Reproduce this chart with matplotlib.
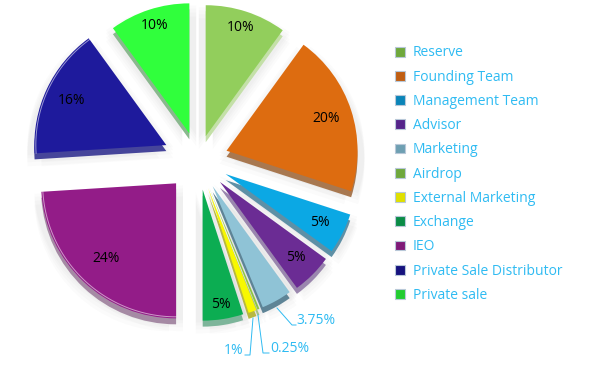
import numpy as np
import matplotlib
matplotlib.use('Agg')
import matplotlib.pyplot as plt
from matplotlib.patches import Patch

labels = ['Reserve', 'Founding Team', 'Management Team', 'Advisor', 'Marketing', 'Airdrop',
          'External Marketing', 'Exchange', 'IEO', 'Private Sale Distributor', 'Private sale']
values = [10, 20, 5, 5, 3.75, 0.25, 1, 5, 24, 16, 10]
pct_text = ['10%', '20%', '5%', '5%', '3.75%', '0.25%', '1%', '5%', '24%', '16%', '10%']
colors = ['#92CE5C', '#DD6C10', '#0BA8E4', '#6B2C94', '#8FC3D6', '#8DC63F',
          '#F8F800', '#0CAD52', '#931C88', '#1E1A9C', '#30FF3C']
sides = ['#C4E0A8', '#A87850', '#5E90A6', '#9A86AE', '#5E8496', '#A6C080',
         '#B8B840', '#7DB59A', '#A58AA4', '#46459A', '#8AB88E']
legend_marks = ['#6FA83C', '#C05E12', '#0A84B8', '#55248A', '#6E9FB2', '#6FA83C',
                '#E0E000', '#0A8C46', '#7F1A78', '#16127E', '#22CC30']
explode = [25, 30, 31, 31, 30, 30, 30, 30, 32, 35, 28]
radii = [131, 131, 131, 131, 131, 131, 131, 131, 135, 132, 130]

text_blue = '#2FBBF2'
cx, cy = 198, 211
depth = 6

fig = plt.figure(figsize=(5.9, 3.71), dpi=100)
ax = fig.add_axes([0, 0, 1, 1])


def draw_pie(center, cols, alpha=1.0, z=1):
    wedges, _ = ax.pie(values, explode=explode, colors=cols, startangle=90,
                       counterclock=False, radius=131, center=center, frame=False,
                       wedgeprops=dict(linewidth=0, alpha=alpha, zorder=z))
    for w, r in zip(wedges, radii):
        w.set_radius(r)
    return wedges


# soft shadow behind the slices
for off in [18, 14, 10, 7]:
    draw_pie((cx - 7, cy - off + 5), ['#000000'] * len(values), alpha=0.016, z=1)
    draw_pie((cx + 7, cy - off + 5), ['#000000'] * len(values), alpha=0.016, z=1)

draw_pie((cx, cy - depth), sides, z=2)
wedges = draw_pie((cx, cy), colors, z=3)
ax.set_xlim(0, 590)
ax.set_ylim(0, 371)
ax.set_aspect('auto')
ax.axis('off')

# light rim on the two slices on the left
for i in [8, 9]:
    w = wedges[i]
    t = np.deg2rad(np.linspace(w.theta1, w.theta2, 80))
    ax.plot(w.center[0] + (w.r - 1.5) * np.cos(t), w.center[1] + (w.r - 1.5) * np.sin(t),
            color='white', lw=0.7, alpha=0.55, zorder=4)

# percent labels inside the big slices
label_dist = [0.87, 0.80, 0.81, 0.82, None, None, None, 0.89, 0.76, 0.79, 0.87]
for w, txt, d in zip(wedges, pct_text, label_dist):
    if d is None:
        continue
    a = np.deg2rad((w.theta1 + w.theta2) / 2)
    ax.text(w.center[0] + d * w.r * np.cos(a), w.center[1] + d * w.r * np.sin(a), txt,
            ha='center', va='center', fontsize=10, family='Open Sans', color='black', zorder=5)

# small slices get leader lines, picture coordinates counted from the top
H = 371
ax.text(296, H - 321, '3.75%', fontsize=10, family='Open Sans', color=text_blue, va='center', zorder=5)
ax.plot([277, 292, 296], [H - 308, H - 325, H - 325], color=text_blue, lw=0.7, zorder=4)
ax.text(270, H - 349, '0.25%', fontsize=10, family='Open Sans', color=text_blue, va='center', zorder=5)
ax.plot([258, 263, 269], [H - 315, H - 353, H - 353], color=text_blue, lw=0.7, zorder=4)
ax.text(224, H - 351, '1%', fontsize=10, family='Open Sans', color=text_blue, va='center', zorder=5)
ax.plot([253, 250, 245], [H - 318, H - 355, H - 355], color=text_blue, lw=0.7, zorder=4)

handles = [Patch(facecolor=c, edgecolor='#B8C8D8', linewidth=0.8) for c in legend_marks]
leg = ax.legend(handles, labels, loc='upper left', bbox_to_anchor=(395 / 590, 1 - 45.5 / 371),
                frameon=False, handlelength=0.7, handleheight=0.7, handletextpad=0.6,
                labelspacing=0.665, borderpad=0, borderaxespad=0,
                prop={'family': 'Open Sans', 'size': 10})
for t in leg.get_texts():
    t.set_color(text_blue)

fig.savefig('out.png', dpi=100)
